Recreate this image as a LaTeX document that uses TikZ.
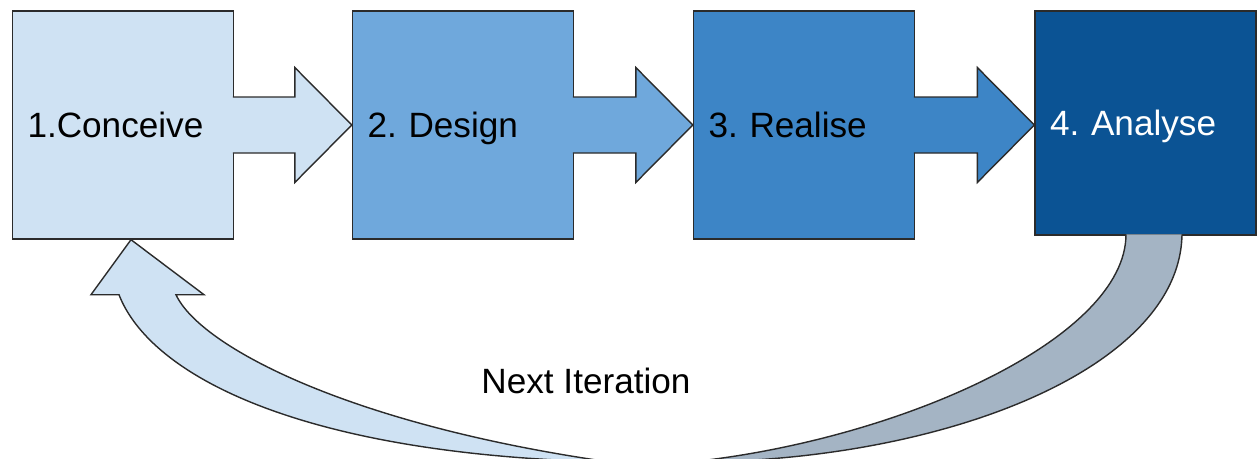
\documentclass[tikz,border=0pt]{standalone}
\usepackage{fontspec}
\setmainfont{Liberation Sans}
\usepackage{xcolor}
\definecolor{stageone}{HTML}{CFE2F3}
\definecolor{stagetwo}{HTML}{6FA8DC}
\definecolor{stagethree}{HTML}{3D85C6}
\definecolor{stagefour}{HTML}{0B5394}
\definecolor{backgray}{HTML}{A4B4C4}
\definecolor{edgegray}{HTML}{2B2B2B}
\usepackage{tikz}
\usetikzlibrary{calc}
\frenchspacing

\begin{document}
\begin{tikzpicture}[
  stage/.style={rectangle, draw=edgegray, line width=0.8pt, minimum width=4.42cm, minimum height=4.56cm, text width=3.82cm, inner xsep=0.3cm, align=left, text height=0.5cm, text depth=0pt, font=\fontsize{20}{24}\selectfont},
  blockarrow/.style={draw=edgegray, line width=0.8pt, line join=miter},
  loopnote/.style={font=\fontsize{20}{24}\selectfont, text height=0.5cm, text depth=0pt}
]
  \useasboundingbox (0,0) rectangle (25.14,-9.18);
  \clip (0,0) rectangle (25.14,-9.18);

  \node[stage, fill=stageone] (b1) at (2.46,-2.5) {1.Conceive};
  \node[stage, fill=stagetwo] (b2) at (9.26,-2.5) {2. Design};
  \node[stage, fill=stagethree] (b3) at (16.08,-2.5) {3. Realise};
  \node[stage, fill=stagefour, text=white, minimum height=4.48cm] (b4) at (22.91,-2.46) {4. Analyse};

  % block arrows between the stages
  \coordinate (tip1) at (b1.east -| b2.west);
  \coordinate (tip2) at (b2.east -| b3.west);
  \coordinate (tip3) at (b3.east -| b4.west);
  \draw[blockarrow, fill=stageone] ([xshift=-0.8pt,yshift=5.6mm]b1.east) -| ([xshift=-11.4mm,yshift=11.5mm]tip1) -- (tip1) -- ([xshift=-11.4mm,yshift=-11.5mm]tip1) |- ([xshift=-0.8pt,yshift=-5.6mm]b1.east);
  \draw[blockarrow, fill=stagetwo] ([xshift=-0.8pt,yshift=5.6mm]b2.east) -| ([xshift=-11.4mm,yshift=11.5mm]tip2) -- (tip2) -- ([xshift=-11.4mm,yshift=-11.5mm]tip2) |- ([xshift=-0.8pt,yshift=-5.6mm]b2.east);
  \draw[blockarrow, fill=stagethree] ([xshift=-0.8pt,yshift=5.6mm]b3.east) -| ([xshift=-11.4mm,yshift=11.5mm]tip3) -- (tip3) -- ([xshift=-11.4mm,yshift=-11.5mm]tip3) |- ([xshift=-0.8pt,yshift=-5.6mm]b3.east);

  % curved arrow back to the start, two tapering halves
  \coordinate (tailr) at (13.8,-9.24);
  \coordinate (taill) at (12.2,-9.24);
  \coordinate (tip0) at ([xshift=1.6mm]b1.south);
  \draw[blockarrow, fill=backgray] ([xshift=-3.9mm,yshift=0.8pt]b4.south) .. controls +(0,-2.08) and (18.0,-8.8) .. (tailr) .. controls (18.8,-9.24) and (23.6,-7.4) .. ([xshift=7.3mm,yshift=0.8pt]b4.south);
  \draw[blockarrow, fill=stageone] (tip0) -- ([shift={(1.46,-1.10)}]tip0) -- ([shift={(0.90,-1.10)}]tip0) .. controls +(0.48,-1.04) and (7.0,-8.5) .. (taill) .. controls (6.0,-9.1) and (3.0,-7.5) .. ([shift={(-0.24,-1.10)}]tip0) -- ([shift={(-0.80,-1.10)}]tip0) -- cycle;

  \node[loopnote] (next) at (11.72,-7.62) {Next Iteration};
\end{tikzpicture}
\end{document}
